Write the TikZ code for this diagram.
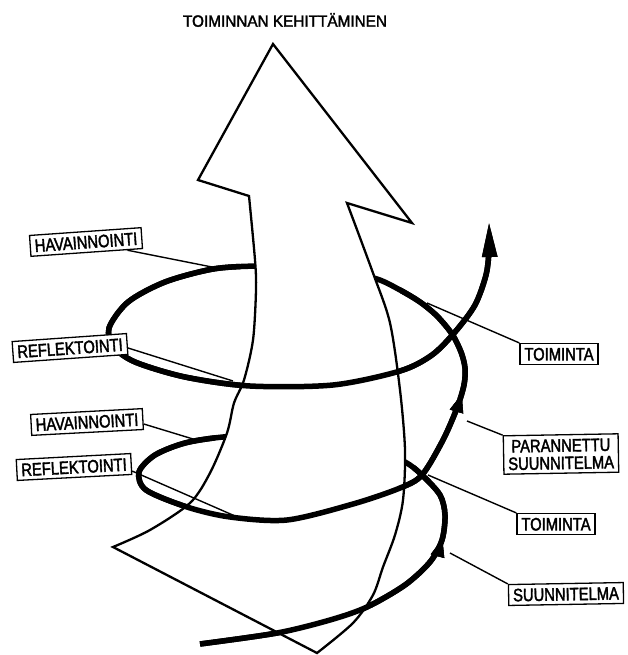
\documentclass[tikz,border=0pt]{standalone}
\usepackage{fontspec}
\setmainfont{Liberation Sans}
\newfontfamily\labfont[FakeStretch=0.82,FakeBold=2]{Liberation Sans}
\newfontfamily\ttlfont[FakeStretch=0.94,FakeBold=2]{Liberation Sans}
\usetikzlibrary{arrows.meta,decorations.markings}

\tikzset{
  spiral/.style={line width=5.5pt, line cap=butt},
  arrowbody/.style={line width=2.3pt, line join=miter, fill=white},
  lab/.style={draw, line width=1.3pt, fill=white, inner xsep=4.5pt, inner ysep=4pt,
    font=\labfont\fontsize{18}{17.5}\selectfont, text height=12.9pt, text depth=0pt},
  leader/.style={line width=1.4pt},
  midarrows/.style={decorate, decoration={markings,
    mark=at position 276pt with {\arrow{Triangle[length=18pt,width=14pt]}},
    mark=at position 1050pt with {\arrow{Triangle[length=18pt,width=14pt]}}}}
}

\newcommand\drawspiral{%
  \draw[spiral, -{Triangle[length=36pt,width=14pt]}] plot[smooth] coordinates {(200,644) (277,633) (330,620) (367,607) (405,585) (430,562) (442,540) (445,515) (440,495) (422,475) (405,462) (370,447) (320,438) (270,435) (223,437) (185,443) (155,455) (139,472) (146,490) (187,507) (230,517) (287,520) (353,504) (400,488) (422,475) (443,440) (457,408) (464,385) (465,368) (461,352) (452,334) (437,316) (420,302) (400,290) (377,279) (340,271) (295,267) (257,266) (213,269) (165,282) (128,302) (109,328) (114,347) (135,362) (185,377) (250,386) (333,385) (400,371) (432,355) (455,332) (475,305) (486,275) (489,250) (489,221)};
  \path[midarrows] plot[smooth] coordinates {(200,644) (277,633) (330,620) (367,607) (405,585) (430,562) (442,540) (445,515) (440,495) (422,475) (405,462) (370,447) (320,438) (270,435) (223,437) (185,443) (155,455) (139,472) (146,490) (187,507) (230,517) (287,520) (353,504) (400,488) (422,475) (443,440) (457,408) (464,385) (465,368) (461,352) (452,334) (437,316) (420,302) (400,290) (377,279) (340,271) (295,267) (257,266) (213,269) (165,282) (128,302) (109,328) (114,347) (135,362) (185,377) (250,386) (333,385) (400,371) (432,355) (455,332) (475,305) (486,275) (489,250) (489,221)};
}

\begin{document}
\begin{tikzpicture}[x=1pt,y=-1pt]
\useasboundingbox[fill=white] (0,0) rectangle (627,655);

% spiral, full (back parts)
\drawspiral

% big arrow
\draw[arrowbody] (273,44) -- (412,223) -- (347,203)
  -- plot[smooth] coordinates {(347,203) (373,273) (390,323) (400,390) (405,450) (403,500) (395,535) (383,567) (373,595) (353,623) (317,653)}
  -- (113,547)
  -- plot[smooth] coordinates {(113,547) (150,530) (190,503) (210,473) (227,433) (234,403) (244,380) (253,340) (256,290) (255,260) (249,196)}
  -- (198,180) -- cycle;

% spiral, front parts
\begin{scope}[even odd rule]
  \clip (0,0) rectangle (627,655) (240,255) rectangle (400,300) (215,425) rectangle (415,470);
  \drawspiral
\end{scope}

% leader targets
\coordinate (thav1) at (217,268);
\coordinate (tref1) at (233,381);
\coordinate (thav2) at (193,439);
\coordinate (tref2) at (235,516);
\coordinate (ttoi1) at (427,303);
\coordinate (tpar) at (467,421);
\coordinate (ttoi2) at (428,475);
\coordinate (tsuu) at (450,553);

% labels
\node[lab, rotate=4] (hav1) at (86,242) {HAVAINNOINTI};
\node[lab, rotate=4] (ref1) at (70,348) {REFLEKTOINTI};
\node[lab, rotate=3] (hav2) at (87,422) {HAVAINNOINTI};
\node[lab, rotate=3] (ref2) at (74,467) {REFLEKTOINTI};
\node[lab] (toi1) at (559,354) {TOIMINTA};
\node[lab, align=center, rotate=1, text height=30.4pt, text depth=0pt] (par) at (561,454) {PARANNETTU\\SUUNNITELMA};
\node[lab] (toi2) at (556,524) {TOIMINTA};
\node[lab, rotate=1] (suu) at (566,594) {SUUNNITELMA};
\node[font=\ttlfont\fontsize{16.3}{16.3}\selectfont] (title) at (285,20) {TOIMINNAN KEHITTÄMINEN};

% leaders
\draw[leader] (hav1) -- (thav1);
\draw[leader] (ref1.-4) -- (tref1);
\draw[leader] (hav2.-5) -- (thav2);
\draw[leader] (ref2.-7) -- (tref2);
\draw[leader] (toi1.north west) -- (ttoi1);
\draw[leader] (par.north west) -- (tpar);
\draw[leader] (toi2.north west) -- (ttoi2);
\draw[leader] (suu.north west) -- (tsuu);
\end{tikzpicture}
\end{document}
